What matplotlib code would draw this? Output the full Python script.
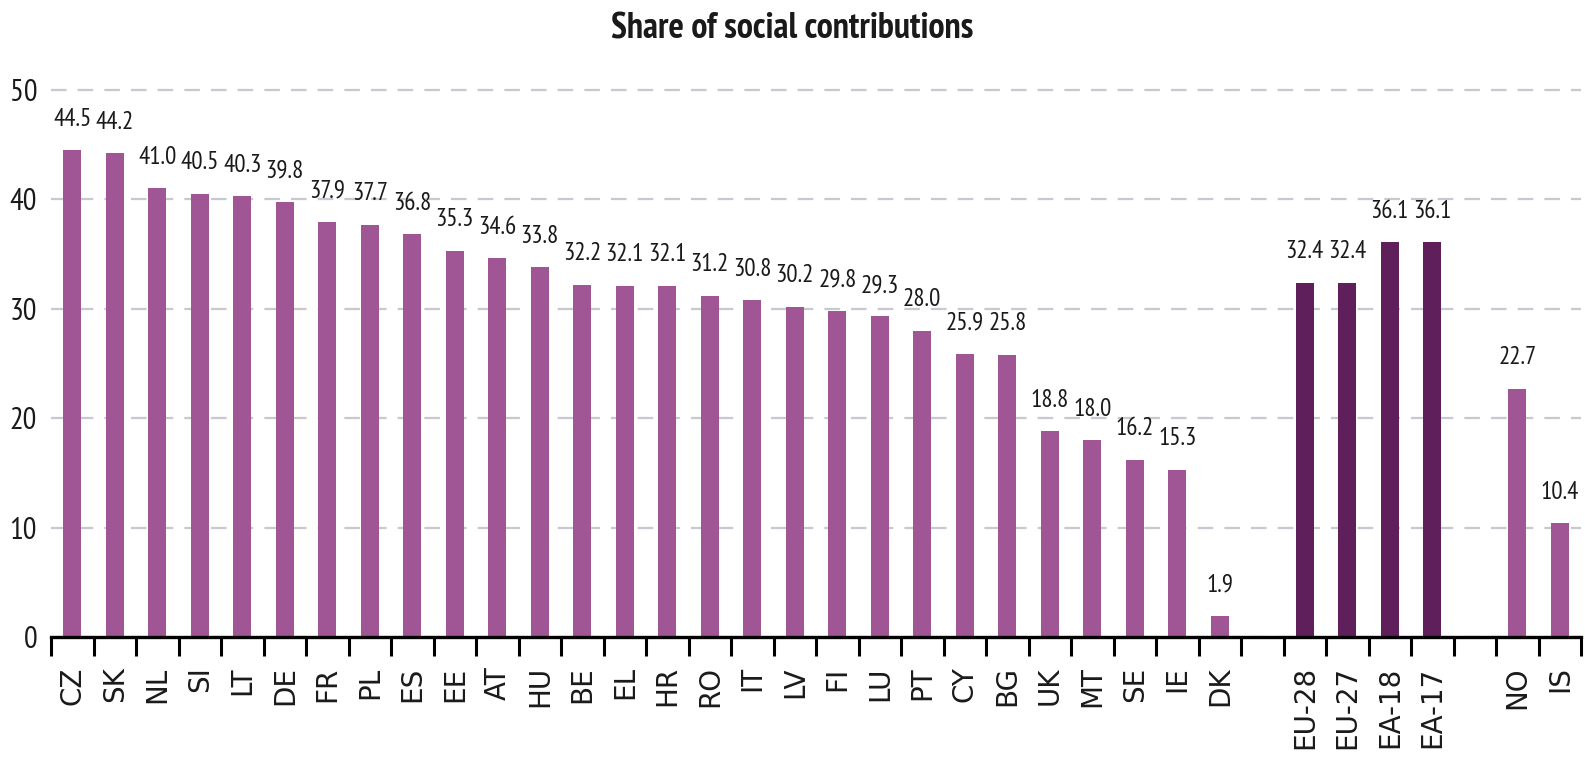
import numpy as np
import matplotlib
matplotlib.use("Agg")
import matplotlib.pyplot as plt

NARROW = ["PT Sans Narrow", "Open Sans Condensed", "Roboto Condensed", "DejaVu Sans"]
LIGHT, DARK, INK = "#a05694", "#5e1f5b", "#1a1a1a"

countries = ["CZ", "SK", "NL", "SI", "LT", "DE", "FR", "PL", "ES", "EE", "AT", "HU",
             "BE", "EL", "HR", "RO", "IT", "LV", "FI", "LU", "PT", "CY", "BG", "UK",
             "MT", "SE", "IE", "DK"]
country_vals = [44.5, 44.2, 41.0, 40.5, 40.3, 39.8, 37.9, 37.7, 36.8, 35.3, 34.6, 33.8,
                32.2, 32.1, 32.1, 31.2, 30.8, 30.2, 29.8, 29.3, 28.0, 25.9, 25.8, 18.8,
                18.0, 16.2, 15.3, 1.9]
aggregates = ["EU-28", "EU-27", "EA-18", "EA-17"]
aggregate_vals = [32.4, 32.4, 36.1, 36.1]
others = ["NO", "IS"]
other_vals = [22.7, 10.4]

# one empty slot between each group
groups = [(countries, country_vals, LIGHT), (aggregates, aggregate_vals, DARK),
          (others, other_vals, LIGHT)]
pos, labels, vals, cols = [], [], [], []
p = 0
for nm, v, c in groups:
    for n, val in zip(nm, v):
        pos.append(p); labels.append(n); vals.append(val); cols.append(c)
        p += 1
    p += 1
nslots = p - 1

fig = plt.figure(figsize=(15.85, 7.63), dpi=100)
ax = fig.add_axes([0.0322, 0.165, 0.9653, 0.7315])

ax.bar(pos, vals, width=0.42, color=cols, zorder=2)
for x, v in zip(pos, vals):
    ax.annotate(f"{v:.1f}", (x, v), xytext=(0, 14), textcoords="offset points",
                ha="center", va="bottom", fontsize=18, color=INK, family=NARROW)

ax.set_xlim(-0.5, nslots - 0.5)
ax.set_ylim(0, 51)
ax.set_yticks(range(0, 51, 10))
ax.set_yticklabels([str(t) for t in range(0, 51, 10)], fontsize=22, family=NARROW, color=INK)
ax.tick_params(axis="y", length=0, pad=10)

ax.set_xticks(pos)
ax.set_xticklabels(labels, rotation=90, fontsize=20, color=INK)
ax.tick_params(axis="x", which="major", length=0, pad=21)
ax.set_xticks(np.arange(nslots + 1) - 0.5, minor=True)
ax.tick_params(axis="x", which="minor", length=14, width=2.2, color="black")

ax.yaxis.grid(True, color="#c8c8d0", lw=1.6, ls=(0, (7, 5)))
ax.set_axisbelow(True)
for s in ["top", "right", "left"]:
    ax.spines[s].set_visible(False)
ax.spines["bottom"].set_linewidth(2.4)

fig.text(0.5, 0.962, "Share of social contributions", ha="center", va="center",
         fontsize=26, fontweight="bold", family=NARROW, color=INK)

fig.savefig("out.png", facecolor="white")
plt.close(fig)
